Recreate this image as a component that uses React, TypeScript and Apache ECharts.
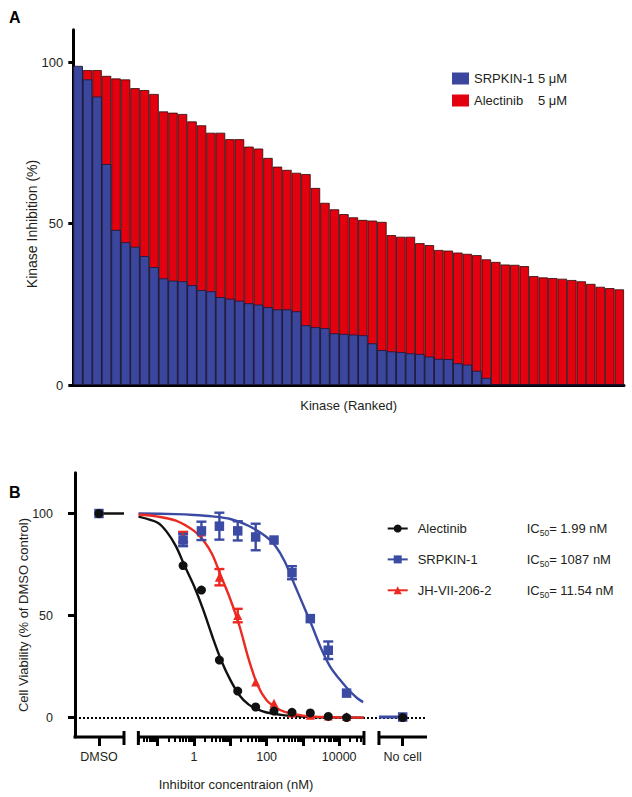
import React, { useEffect, useRef } from 'react';
import * as echarts from 'echarts';

const FONT = '"Liberation Sans", Arial, Helvetica, sans-serif';
const TXT = '#231f20';
const BAR_BLUE = '#3b479d';
const BAR_RED = '#e3000f';
const C_BLACK = '#111111';
const C_BLUE = '#3b4ba3';
const C_RED = '#ec2a22';

// ---------- Panel A data (kinases ranked by Alectinib inhibition) ----------
const alectinibInhibition = [98.5, 97.5, 97.5, 95.7, 94.9, 94.6, 91.9, 91.3, 90.1, 84.7, 84.3, 83.9, 81.6, 80.4, 78.1, 78.1, 76.1, 76.1, 73.8, 73.2, 70.3, 67.6, 66.6, 65.7, 65.3, 61.0, 56.4, 54.4, 52.9, 51.9, 51.1, 50.9, 50.5, 46.4, 45.9, 45.9, 43.9, 43.3, 41.8, 41.6, 41.0, 40.6, 40.2, 38.9, 38.1, 37.3, 37.2, 36.8, 33.7, 33.3, 33.1, 32.9, 32.5, 32.1, 31.3, 30.4, 30.0, 29.6];
const srpkinInhibition = [98.8, 94.6, 89.3, 68.4, 48.0, 44.2, 42.8, 39.9, 36.5, 33.0, 32.3, 32.1, 30.9, 29.4, 29.0, 27.2, 26.7, 26.1, 25.3, 24.9, 24.1, 23.4, 23.4, 22.8, 18.5, 17.9, 17.6, 16.0, 15.8, 15.6, 15.4, 12.9, 10.8, 10.4, 10.2, 9.8, 9.6, 8.8, 8.1, 8.0, 6.7, 6.3, 4.4, 2.2, 0, 0, 0, 0, 0, 0, 0, 0, 0, 0, 0, 0, 0, 0];
const kinaseRanks = alectinibInhibition.map((_, i) => String(i + 1));
const topCompounds = ['SRPKIN-1', 'Alectinib'];
const TOP_DOSE = '5 μM';
const topYTicks = [0, 50, 100];

// ---------- Panel B data ----------
const concentrationsNM = [0.5, 1.6, 5, 16, 50, 160, 500, 1600, 5000, 16000];
const alectinibViability = [74.5, 62.5, 28.2, 13.0, 5.2, 3.2, 2.6, 2.3, 0.6, 0.0];
const srpkinViability = [87.0, 91.5, 93.8, 91.5, 88.5, 87.0, 71.0, 48.5, 33.0, 12.0];
const srpkinSem = [3.0, 4.5, 6.6, 4.7, 6.5, 0, 3.2, 0, 4.3, 0];
const jhViability = [88.5, 91.0, 68.8, 50.0, 17.5, 7.0, 2.2, 1.2, 0.8, 0.5];
const jhSem = [2.5, 0, 4.0, 3.3, 0, 0, 0, 0, 0, 0];
// DMSO and "No cell" controls for Alectinib and SRPKIN-1
const dmsoViability = [100, 100];
const noCellViability = [0, 0.3];

// fitted curves (x in log10 nM)
const alectinibFitLog = [-1.53, -1.0, -0.75, -0.5, -0.25, 0, 0.25, 0.5, 0.75, 1.0, 1.25, 1.5, 1.75, 2.0, 2.5, 3.0, 3.5, 4.68];
const alectinibFit = [98.5, 95.5, 91, 84, 74, 64.5, 53, 40, 28, 18.5, 11, 6.5, 4, 2.5, 1.1, 0.5, 0.2, 0];
const jhFitLog = [-1.53, -1.0, -0.5, 0, 0.25, 0.5, 0.75, 1.0, 1.25, 1.5, 1.75, 2.0, 2.25, 2.5, 3.0, 3.5, 4.68];
const jhFit = [99.5, 98.5, 96.5, 91.5, 87, 80, 69, 58, 45, 29, 16, 8.5, 5, 2.8, 1, 0.3, 0];
const srpkinFitLog = [-1.53, -0.5, 0, 0.5, 1.0, 1.5, 2.0, 2.25, 2.5, 2.75, 3.0, 3.25, 3.5, 3.75, 4.0, 4.25, 4.5, 4.66];
const srpkinFit = [100, 99.7, 99.3, 98.6, 97.3, 94, 88.5, 84, 76.5, 66, 55.5, 45, 34, 25, 19, 13.8, 9.5, 7.6];

const compounds = ['Alectinib', 'SRPKIN-1', 'JH-VII-206-2'];
const ic50Labels = ['1.99 nM', '1087 nM', '11.54 nM'];
const decadeTicksNM = [0.1, 1, 10, 100, 1000, 10000];
const labelledConcNM = [1, 100, 10000];
const bottomYTicks = [0, 50, 100];

// ---------- layout of the broken x axis (log10 nM units) ----------
const X_MIN = -3.28;
const X_MAX = 6.42;
const DMSO_X = -2.62;
const NOCELL_X = 5.75;
const SEG1_END = -1.93;
const SEG2_START = -1.534;
const SEG2_END = 4.683;
const SEG3_START = 5.096;
const V_MIN = -9.5;
const V_MAX = 120;

const lx = (c: number) => Math.log10(c);

const minorTicks: number[] = [];
for (let n = -2; n <= 4; n++) {
  for (let k = 2; k <= 9; k++) {
    const v = Math.log10(k * Math.pow(10, n));
    if (v > SEG2_START + 0.01 && v < SEG2_END - 0.01) minorTicks.push(v);
  }
}
const majorTicks = [DMSO_X, ...decadeTicksNM.map(lx), NOCELL_X];
const labelValues = [DMSO_X, ...labelledConcNM.map(lx), NOCELL_X];
const labelTexts = ['DMSO', ...labelledConcNM.map(String), 'No cell'];

const segments = [
  [X_MIN, SEG1_END, 0, 1],
  [SEG2_START, SEG2_END, 1, 1],
  [SEG3_START, X_MAX, 1, 0],
];

function pts(xs: number[], ys: number[]) {
  return xs.map((c, i) => [lx(c), ys[i]]);
}
function logPts(xs: number[], ys: number[]) {
  return xs.map((x, i) => [x, ys[i]]);
}

function errData(vals: number[], sem: number[]) {
  const out: number[][] = [];
  vals.forEach((v, i) => {
    if (sem[i] > 0) out.push([lx(concentrationsNM[i]), v - sem[i], v + sem[i]]);
  });
  return out;
}

function errorSeries(name: string, data: number[][], color: string) {
  return {
    type: 'custom',
    name,
    xAxisIndex: 1,
    yAxisIndex: 1,
    clip: false,
    z: 4,
    silent: true,
    data,
    renderItem: (params: any, api: any) => {
      const x = api.value(0);
      const lo = api.coord([x, api.value(1)]);
      const hi = api.coord([x, api.value(2)]);
      const st = { stroke: color, lineWidth: 2.4 };
      return {
        type: 'group',
        children: [
          { type: 'line', shape: { x1: lo[0], y1: lo[1], x2: hi[0], y2: hi[1] }, style: st },
          { type: 'line', shape: { x1: lo[0] - 5, y1: lo[1], x2: lo[0] + 5, y2: lo[1] }, style: st },
          { type: 'line', shape: { x1: hi[0] - 5, y1: hi[1], x2: hi[0] + 5, y2: hi[1] }, style: st },
        ],
      };
    },
  };
}

function curveSeries(name: string, data: number[][], color: string, symbol: string) {
  return {
    type: 'line',
    name,
    xAxisIndex: 1,
    yAxisIndex: 1,
    data,
    smooth: 0.3,
    symbol,
    showSymbol: false,
    lineStyle: { color, width: 2.4 },
    itemStyle: { color },
    z: 3,
    silent: true,
  };
}

function pointSeries(name: string, data: number[][], color: string, symbol: string, size: number) {
  return {
    type: 'scatter',
    name,
    xAxisIndex: 1,
    yAxisIndex: 1,
    symbol,
    symbolSize: size,
    itemStyle: { color, opacity: 1 },
    z: 5,
    silent: true,
    data,
  };
}

const option: any = {
  animation: false,
  backgroundColor: '#ffffff',
  textStyle: { fontFamily: FONT, color: TXT },
  grid: [
    { left: 73.3, top: 29.7, width: 550.7, height: 355.3 },
    { left: 75, top: 472.7, width: 352, height: 264.3 },
  ],
  xAxis: [
    {
      type: 'category',
      gridIndex: 0,
      data: kinaseRanks,
      boundaryGap: true,
      axisLine: { show: true, onZero: false, lineStyle: { color: '#000', width: 3 } },
      axisTick: { show: false },
      axisLabel: { show: false },
      splitLine: { show: false },
      name: 'Kinase (Ranked)',
      nameLocation: 'middle',
      nameGap: 14,
      nameTextStyle: { fontFamily: FONT, fontSize: 13, color: TXT },
    },
    {
      type: 'value',
      gridIndex: 1,
      position: 'bottom',
      min: X_MIN,
      max: X_MAX,
      axisLine: { show: false, onZero: false },
      axisTick: { show: true, customValues: majorTicks, length: 9, lineStyle: { color: '#000', width: 3 } },
      axisLabel: {
        show: true,
        customValues: labelValues,
        margin: 13,
        fontFamily: FONT,
        fontSize: 12.5,
        color: TXT,
        formatter: (v: number) => {
          const i = labelValues.findIndex((t) => Math.abs(t - v) < 1e-6);
          return i >= 0 ? labelTexts[i] : '';
        },
      },
      splitLine: { show: false },
    },
    {
      type: 'value',
      gridIndex: 1,
      position: 'bottom',
      offset: 0,
      min: X_MIN,
      max: X_MAX,
      axisLine: { show: false, onZero: false },
      axisTick: { show: true, customValues: minorTicks, length: 5, lineStyle: { color: '#000', width: 2 } },
      axisLabel: { show: false },
      splitLine: { show: false },
    },
  ],
  yAxis: [
    {
      type: 'value',
      gridIndex: 0,
      min: 0,
      max: 110,
      axisLine: { show: true, onZero: false, lineStyle: { color: '#000', width: 3 } },
      axisTick: { show: true, customValues: topYTicks, length: 5, lineStyle: { color: '#000', width: 3 } },
      axisLabel: { customValues: topYTicks, margin: 10, fontFamily: FONT, fontSize: 13, color: TXT },
      splitLine: { show: false },
    },
    {
      type: 'value',
      gridIndex: 1,
      min: V_MIN,
      max: V_MAX,
      axisLine: { show: true, onZero: false, lineStyle: { color: '#000', width: 3 } },
      axisTick: { show: true, customValues: bottomYTicks, length: 7, lineStyle: { color: '#000', width: 3 } },
      axisLabel: { customValues: bottomYTicks, margin: 22, fontFamily: FONT, fontSize: 12.5, color: TXT },
      splitLine: { show: false },
    },
  ],
  legend: [
    {
      orient: 'vertical',
      left: 452,
      top: 72,
      padding: 0,
      itemWidth: 17,
      itemHeight: 12,
      itemGap: 9,
      icon: 'rect',
      selectedMode: false,
      itemStyle: { borderWidth: 0 },
      data: topCompounds.map((c) => `${c} ${TOP_DOSE}`),
      textStyle: {
        fontFamily: FONT,
        fontSize: 13,
        color: TXT,
        rich: {
          n: { width: 64, fontFamily: FONT, fontSize: 13, color: TXT },
          u: { fontFamily: FONT, fontSize: 13, color: TXT },
        },
      },
      formatter: (name: string) => `{n|${name.replace(' ' + TOP_DOSE, '')}}{u|${TOP_DOSE}}`,
    },
    {
      orient: 'vertical',
      left: 386.7,
      top: 522,
      padding: 0,
      itemWidth: 20,
      itemHeight: 10,
      itemGap: 15.4,
      selectedMode: false,
      data: compounds.map((c, i) => ({
        name: c,
        textStyle: { color: [C_BLACK, C_BLUE, C_RED][i] },
      })),
      textStyle: {
        fontFamily: FONT,
        fontSize: 13,
        rich: {
          s: { width: 5, fontSize: 13, lineHeight: 18 },
          n: { width: 109, fontFamily: FONT, fontSize: 13, lineHeight: 18 },
          ic: { fontFamily: FONT, fontSize: 13, lineHeight: 18, color: TXT },
          sub: { fontFamily: FONT, fontSize: 8.5, lineHeight: 10, verticalAlign: 'bottom', color: TXT },
        },
      },
      formatter: (name: string) => {
        const i = compounds.indexOf(name);
        return `{s| }{n|${name}}{ic|IC}{sub|50}{ic|= ${ic50Labels[i]}}`;
      },
    },
  ],
  series: [
    {
      type: 'bar',
      name: `Alectinib ${TOP_DOSE}`,
      xAxisIndex: 0,
      yAxisIndex: 0,
      data: alectinibInhibition,
      barGap: '-100%',
      barCategoryGap: '0%',
      itemStyle: { color: BAR_RED, borderColor: '#2b0b0b', borderWidth: 0.8 },
      silent: true,
    },
    {
      type: 'bar',
      name: `SRPKIN-1 ${TOP_DOSE}`,
      xAxisIndex: 0,
      yAxisIndex: 0,
      data: srpkinInhibition,
      barGap: '-100%',
      barCategoryGap: '0%',
      itemStyle: { color: BAR_BLUE, borderColor: '#15183a', borderWidth: 0.8 },
      silent: true,
    },
    // broken x axis of panel B
    {
      type: 'custom',
      name: 'x-axis-segments',
      xAxisIndex: 1,
      yAxisIndex: 1,
      clip: false,
      silent: true,
      z: 6,
      data: segments,
      renderItem: (params: any, api: any) => {
        const a = api.coord([api.value(0), V_MIN]);
        const b = api.coord([api.value(1), V_MIN]);
        const capL = api.value(2);
        const capR = api.value(3);
        const st = { stroke: '#000', lineWidth: 3 };
        const children: any[] = [
          { type: 'line', shape: { x1: a[0] - (capL ? 0 : 1.5), y1: a[1], x2: b[0], y2: b[1] }, style: st },
        ];
        if (capL) children.push({ type: 'line', shape: { x1: a[0], y1: a[1] - 6, x2: a[0], y2: a[1] + 8 }, style: st });
        if (capR) children.push({ type: 'line', shape: { x1: b[0], y1: b[1] - 6, x2: b[0], y2: b[1] + 8 }, style: st });
        return { type: 'group', children };
      },
    },
    curveSeries('Alectinib', logPts(alectinibFitLog, alectinibFit), C_BLACK, 'circle'),
    curveSeries('SRPKIN-1', logPts(srpkinFitLog, srpkinFit), C_BLUE, 'rect'),
    curveSeries('JH-VII-206-2', logPts(jhFitLog, jhFit), C_RED, 'triangle'),
    {
      type: 'line',
      name: 'dmso-link',
      xAxisIndex: 1,
      yAxisIndex: 1,
      data: [[DMSO_X, dmsoViability[0]], [SEG1_END, dmsoViability[0]]],
      symbol: 'none',
      lineStyle: { color: C_BLACK, width: 2.4 },
      silent: true,
      z: 3,
      markLine: {
        silent: true,
        symbol: 'none',
        label: { show: false },
        lineStyle: { color: '#000', width: 2, type: 'dotted' },
        data: [{ yAxis: 0 }],
        z: 2,
      },
    },
    {
      type: 'line',
      name: 'nocell-link',
      xAxisIndex: 1,
      yAxisIndex: 1,
      data: [[SEG3_START, noCellViability[1]], [NOCELL_X, noCellViability[1]]],
      symbol: 'none',
      lineStyle: { color: C_BLUE, width: 3 },
      silent: true,
      z: 3,
    },
    errorSeries('jh-err', errData(jhViability, jhSem), C_RED),
    pointSeries('JH-VII-206-2', pts(concentrationsNM, jhViability), C_RED, 'triangle', 9),
    errorSeries('srpkin-err', errData(srpkinViability, srpkinSem), C_BLUE),
    pointSeries(
      'SRPKIN-1',
      [[DMSO_X, dmsoViability[1]], ...pts(concentrationsNM, srpkinViability), [NOCELL_X, noCellViability[1]]],
      C_BLUE,
      'rect',
      9.5
    ),
    pointSeries(
      'Alectinib',
      [[DMSO_X, dmsoViability[0]], ...pts(concentrationsNM, alectinibViability), [NOCELL_X, noCellViability[0]]],
      C_BLACK,
      'circle',
      9
    ),
  ],
  graphic: [
    { type: 'text', left: 9, top: 9, style: { text: 'A', font: `bold 16px ${FONT}`, fill: '#000' } },
    { type: 'text', left: 9, top: 484, style: { text: 'B', font: `bold 16px ${FONT}`, fill: '#000' } },
    {
      type: 'text',
      x: 32,
      y: 224,
      rotation: Math.PI / 2,
      style: { text: 'Kinase Inhibition (%)', font: `14px ${FONT}`, fill: TXT, align: 'center', verticalAlign: 'middle' },
    },
    {
      type: 'text',
      x: 23,
      y: 615,
      rotation: Math.PI / 2,
      style: { text: 'Cell Viability (% of DMSO control)', font: `13px ${FONT}`, fill: TXT, align: 'center', verticalAlign: 'middle' },
    },
    {
      type: 'text',
      x: 236,
      y: 784,
      style: { text: 'Inhibitor concentraion (nM)', font: `13px ${FONT}`, fill: TXT, align: 'center', verticalAlign: 'middle' },
    },
  ],
};

export default function App() {
  const ref = useRef<HTMLDivElement>(null);
  useEffect(() => {
    if (!ref.current) return;
    const chart = echarts.init(ref.current, undefined, { renderer: 'svg' });
    chart.setOption(option);
    return () => chart.dispose();
  }, []);
  return <div ref={ref} style={{ position: 'fixed', left: 0, top: 0, width: 632, height: 797, background: '#fff' }} />;
}
